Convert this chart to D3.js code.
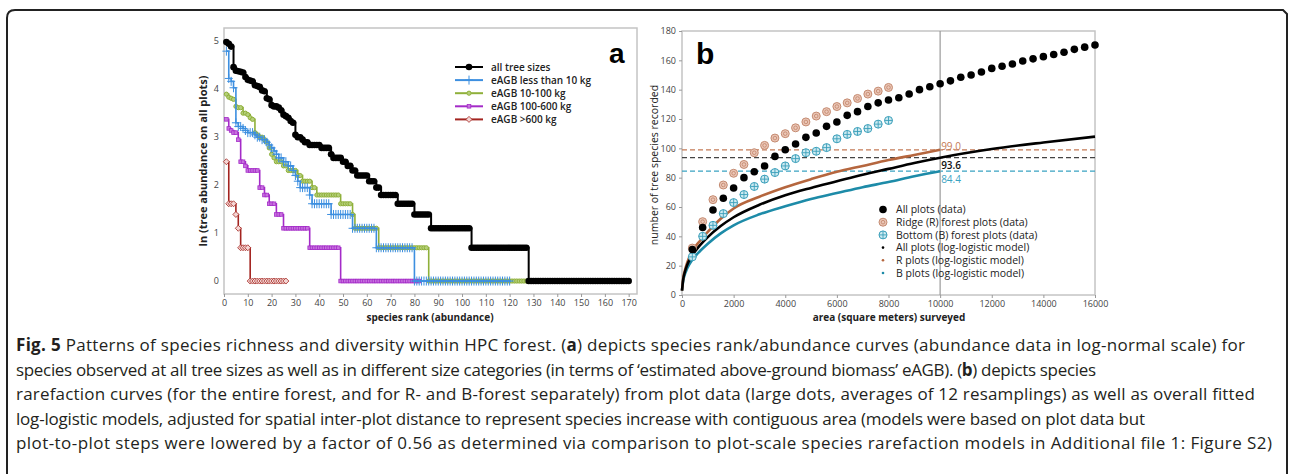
<!DOCTYPE html>
<html><head><meta charset="utf-8">
<script src="https://cdn.jsdelivr.net/npm/d3@7"></script>
<style>
body{margin:0;background:#fff;}
svg{display:block;}
</style></head><body>
<script>
// ---------- Panel a data: abundance by species rank ----------
const abundAll = [145,140,132,86,80,79,78,77,70,66,65,64,59,58,57,53,52,45,44,39,38,38,37,35,32,31,30,28,27,21,20,20,19,18,18,17,17,17,17,17,16,16,16,16,14,13,13,13,13,12,12,11,11,10,10,9,9,9,9,9,8,8,8,7,7,6,6,6,6,6,6,6,5,5,5,5,5,5,5,
4,4,4,4,4,4,4,3,3,3,3,3,3,3,3,3,3,3,3,3,3,3,3,3,2,2,2,2,2,2,2,2,2,2,2,2,2,2,2,2,2,2,2,2,2,2,2,2,
1,1,1,1,1,1,1,1,1,1,1,1,1,1,1,1,1,1,1,1,1,1,1,1,1,1,1,1,1,1,1,1,1,1,1,1,1,1,1,1,1,1,1];
const abundLt10 = [120,68,64,56,27,25,25,24,23,22,22,22,21,20,20,19,19,18,17,16,15,14,13,13,12,12,11,11,10,9,8,7,7,7,7,6,
5,5,5,5,5,5,5,5,4,4,4,4,4,4,4,4,4,3,3,3,3,3,3,3,3,3,3,2,2,2,2,2,2,2,2,2,2,2,2,2,2,2,2,
1,1,1,1,1,1,1,1,1,1,1,1,1,1,1,1,1,1,1,1,1,1,1,1,1,1,1,1,1,1,1,1,1,1,1,1,1,1,1,1,1];
const abund10to100 = [49,46,45,44,38,37,37,33,33,32,30,29,22,21,20,20,19,18,16,14,13,12,12,12,11,11,10,10,10,10,9,9,8,8,8,8,7,7,
6,6,6,6,6,6,6,6,6,6,5,5,5,5,5,4,3,3,3,3,3,3,3,3,3,3,2,2,2,2,2,2,2,2,2,2,2,2,2,2,2,2,2,2,2,2,2,
1,1,1,1,1,1,1,1,1,1,1,1,1,1,1,1,1,1,1,1,1,1,1,1,1,1,1,1,1,1,1,1,1,1,1,1,1,1,1,1,1,1,1];
const abund100to600 = [29,24,23,22,22,19,12,12,11,10,10,10,10,10,7,7,6,6,5,5,5,4,4,4,3,3,3,3,3,3,3,3,3,3,3,
2,2,2,2,2,2,2,2,2,2,2,2,2,1,1,1,1,1,1,1,1,1,1,1,1,1,1,1,1,1,1,1,1,1,1,1,1,1,1,1,1,1,1,1,1,1,1];
const abundGt600 = [12,5,5,5,4,3,2,2,2,2,1,1,1,1,1,1,1,1,1,1,1,1,1,1,1,1];
const seriesANames = ["all tree sizes","eAGB less than 10 kg","eAGB 10-100 kg","eAGB 100-600 kg","eAGB >600 kg"];
const xTicksA = [0,10,20,30,40,50,60,70,80,90,100,110,120,130,140,150,160,170];
const yTicksA = [0,1,2,3,4,5];

// ---------- Panel b data: species rarefaction ----------
const areaAll = [400,800,1200,1600,2000,2400,2800,3200,3600,4000,4400,4800,5200,5600,6000,6400,6800,7200,7600,8000,8400,8800,9200,9600,10000,10400,10800,11200,11600,12000,12400,12800,13200,13600,14000,14400,14800,15200,15600,16000];
const richAll = [31,46,58,66,73,80,84,88,94.5,99,103,107.5,110.5,115,118,122.5,125,128.5,131,133,134.5,137,140,142,144,146,148.5,150,152,154.5,156,157.5,159.5,161,162.5,164,165.5,167.5,169,170.5];
const areaR = [400,800,1200,1600,2000,2400,2800,3200,3600,4000,4400,4800,5200,5600,6000,6400,6800,7200,7600,8000];
const richR = [32,50,65,75,83,89,97,102,107,110,114,118,122,125,128.5,131,134,137,139,141.5];
const areaB = [400,800,1200,1600,2000,2400,2800,3200,3600,4000,4400,4800,5200,5600,6000,6400,6800,7200,7600,8000];
const richB = [26,40,47.5,55.5,63,68.5,74,79,83.5,88,93,97,98,100.5,106.5,109.5,111.5,113.5,116.5,119];
const modelAreaAll = [0,50,100,200,400,700,1000,1500,2000,3000,4000,5000,6000,7000,8000,9000,10000,12000,14000,16000];
const modelAll = [3,11,15,20.5,27,34,39.5,47,53,61.5,68,73,77.5,82,86,90,93.6,99.5,104,108];
const modelAreaRB = [0,50,100,200,400,700,1000,1500,2000,3000,4000,5000,6000,7000,8000,9000,10000];
const modelR = [3,12,16,22,30,37,43,52,59,67,73.5,79,84,88,92,95.5,99.0];
const modelB = [3,10,13.5,18,24,30,35,42,47.5,55,60.5,65.5,69.5,73.5,77,81,84.4];
const refLevels = [99.0, 93.6, 84.4];
const refLabels = ["99.0","93.6","84.4"];
const seriesBNames = ["All plots (data)","Ridge (R) forest plots (data)","Bottom (B) forest plots (data)","All plots (log-logistic model)","R plots (log-logistic model)","B plots (log-logistic model)"];
const xTicksB = [0,2000,4000,6000,8000,10000,12000,14000,16000];
const yTicksB = [0,20,40,60,80,100,120,140,160,180];

// ---------- Caption ----------
const captionLines = [
 [["Fig. 5",true],[" Patterns of species richness and diversity within HPC forest. (",false],["a",true],[") depicts species rank/abundance curves (abundance data in log-normal scale) for",false]],
 [["species observed at all tree sizes as well as in different size categories (in terms of \u2018estimated above-ground biomass\u2019 eAGB). (",false],["b",true],[") depicts species",false]],
 [["rarefaction curves (for the entire forest, and for R- and B-forest separately) from plot data (large dots, averages of 12 resamplings) as well as overall fitted",false]],
 [["log-logistic models, adjusted for spatial inter-plot distance to represent species increase with contiguous area (models were based on plot data but",false]],
 [["plot-to-plot steps were lowered by a factor of 0.56 as determined via comparison to plot-scale species rarefaction models in Additional file 1: Figure S2)",false]]
];

const W = 1292, H = 474;
const FONT = "'Open Sans', 'Noto Sans', sans-serif";
const svg = d3.select("body").append("svg").attr("width", W).attr("height", H)
  .style("font-family", FONT);
svg.append("rect").attr("width", W).attr("height", H).attr("fill", "#fff");

// outer frame
svg.append("path")
  .attr("d", `M7,${H+5} L7,18 Q7,10 15,10 L1283,10 L1287,14 L1287,${H+5}`)
  .attr("fill", "none").attr("stroke", "#222").attr("stroke-width", 2);

// ================= PANEL A =================
const xA = d3.scaleLinear().domain([0, 173.5]).range([224, 637]);
const yA = d3.scaleLinear().domain([-0.27, 5.27]).range([294, 28]);
const gA = svg.append("g");

gA.append("rect").attr("x", xA.range()[0]).attr("y", yA.range()[1])
  .attr("width", xA.range()[1] - xA.range()[0]).attr("height", yA.range()[0] - yA.range()[1])
  .attr("fill", "none").attr("stroke", "#c4c4c4").attr("stroke-width", 1.5);

const axA = gA.append("g").attr("transform", `translate(0,${yA.range()[0]})`)
  .call(d3.axisBottom(xA).tickValues(xTicksA).tickFormat(d3.format("d")).tickSize(3).tickPadding(3));
const ayA = gA.append("g").attr("transform", `translate(${xA.range()[0]},0)`)
  .call(d3.axisLeft(yA).tickValues(yTicksA).tickFormat(d3.format("d")).tickSize(0).tickPadding(5));
[axA, ayA].forEach(a => {
  a.select(".domain").remove();
  a.selectAll("line").attr("stroke", "#999");
  a.selectAll("text").attr("fill", "#444").style("font-size", "9px").style("font-family", FONT);
});

const colorsA = ["#000000", "#3d8fe0", "#8fb03a", "#a42bc8", "#a32420"];
const dataA = [abundAll, abundLt10, abund10to100, abund100to600, abundGt600];

function drawMarkerA(sel, i, c) {
  if (i === 0) sel.append("circle").attr("r", 3.3).attr("fill", c);
  else if (i === 1) sel.append("path").attr("d", "M-4,0H4M0,-4.5V4.5").attr("stroke", c).attr("stroke-width", 1);
  else if (i === 2) sel.append("circle").attr("r", 2.1).attr("fill", "#b5cf7a").attr("stroke", c).attr("stroke-width", 1);
  else if (i === 3) sel.append("rect").attr("x", -1.8).attr("y", -1.8).attr("width", 3.6).attr("height", 3.6).attr("fill", "#c772de").attr("stroke", c).attr("stroke-width", 0.8);
  else sel.append("path").attr("d", "M0,-3L3,0L0,3L-3,0Z").attr("fill", "#f4d6d4").attr("stroke", c).attr("stroke-width", 0.8);
}

const lineA = d3.line().x(d => xA(d[0])).y(d => yA(d[1])).curve(d3.curveStepAfter);
[4, 3, 2, 1, 0].forEach(i => {
  const pts = dataA[i].map((v, k) => [k + 1, Math.log(v)]);
  const g = gA.append("g");
  g.append("path").attr("d", lineA(pts)).attr("fill", "none")
    .attr("stroke", colorsA[i]).attr("stroke-width", i === 0 ? 2 : 1.6);
  g.selectAll("g.m").data(pts).join("g").attr("class", "m")
    .attr("transform", d => `translate(${xA(d[0])},${yA(d[1])})`)
    .each(function () { drawMarkerA(d3.select(this), i, colorsA[i]); });
});

// legend a
seriesANames.forEach((n, i) => {
  const y = 67 + i * 13.1;
  const g = gA.append("g");
  g.append("line").attr("x1", 455).attr("x2", 483).attr("y1", y).attr("y2", y)
    .attr("stroke", colorsA[i]).attr("stroke-width", 2);
  const m = g.append("g").attr("transform", `translate(469,${y})`);
  drawMarkerA(m, i, colorsA[i]);
  g.append("text").attr("x", 491).attr("y", y).attr("dy", "0.35em")
    .style("font-size", "10px").style("font-weight", 600).attr("fill", "#222").text(n);
});

gA.append("text").attr("x", 609).attr("y", 63).text("a")
  .style("font-family", "'Liberation Sans', Arial, sans-serif").style("font-size", "28px").style("font-weight", 700);

gA.append("text").attr("transform", "translate(207,161) rotate(-90)").attr("text-anchor", "middle")
  .style("font-size", "11px").style("font-weight", 700).attr("fill", "#222")
  .text("ln (tree abundance on all plots)");
gA.append("text").attr("x", 430).attr("y", 321).attr("text-anchor", "middle")
  .style("font-size", "10px").style("font-weight", 700).attr("fill", "#222")
  .text("species rank (abundance)");

// ================= PANEL B =================
const xB = d3.scaleLinear().domain([0, 16000]).range([682, 1095]);
const yB = d3.scaleLinear().domain([0, 180]).range([295, 31]);
const gB = svg.append("g");

gB.append("rect").attr("x", xB.range()[0]).attr("y", yB.range()[1])
  .attr("width", xB.range()[1] - xB.range()[0]).attr("height", yB.range()[0] - yB.range()[1])
  .attr("fill", "none").attr("stroke", "#c4c4c4").attr("stroke-width", 1.5);

const axB = gB.append("g").attr("transform", `translate(0,${yB.range()[0]})`)
  .call(d3.axisBottom(xB).tickValues(xTicksB).tickFormat(d3.format("d")).tickSize(3).tickPadding(3));
const ayB = gB.append("g").attr("transform", `translate(${xB.range()[0]},0)`)
  .call(d3.axisLeft(yB).tickValues(yTicksB).tickSize(3).tickPadding(3));
[axB, ayB].forEach(a => {
  a.select(".domain").remove();
  a.selectAll("line").attr("stroke", "#999");
  a.selectAll("text").attr("fill", "#444").style("font-size", "9px").style("font-family", FONT);
});

const refColors = ["#c47a55", "#444444", "#3aa3c2"];
refLevels.forEach((v, i) => {
  gB.append("line").attr("x1", xB(0)).attr("x2", xB(16000)).attr("y1", yB(v)).attr("y2", yB(v))
    .attr("stroke", refColors[i]).attr("stroke-width", 1.2).attr("stroke-dasharray", "5,3");
});
gB.append("line").attr("x1", xB(10000)).attr("x2", xB(10000)).attr("y1", yB(0)).attr("y2", yB(180))
  .attr("stroke", "#9a9a9a").attr("stroke-width", 1.2);

const modelColors = ["#000000", "#b5663e", "#1d8ba8"];
const lineB = d3.line().x(d => xB(d[0])).y(d => yB(d[1])).curve(d3.curveMonotoneX);
[[modelAreaRB, modelB, 2], [modelAreaRB, modelR, 1], [modelAreaAll, modelAll, 0]].forEach(([xs, ys, ci]) => {
  gB.append("path").attr("d", lineB(xs.map((x, k) => [x, ys[k]]))).attr("fill", "none")
    .attr("stroke", modelColors[ci]).attr("stroke-width", 2.6);
});

function drawMarkerB(sel, i) {
  if (i === 0) sel.append("circle").attr("r", 3.8).attr("fill", "#000");
  else if (i === 1) {
    sel.append("circle").attr("r", 4).attr("fill", "#ebc6b6").attr("stroke", "#c48a70").attr("stroke-width", 1);
    sel.append("circle").attr("r", 1.8).attr("fill", "none").attr("stroke", "#c48a70").attr("stroke-width", 0.9);
  } else if (i === 2) {
    sel.append("circle").attr("r", 4).attr("fill", "#cdeaf1").attr("stroke", "#3a9fba").attr("stroke-width", 1);
    sel.append("path").attr("d", "M-4,0H4M0,-4V4").attr("stroke", "#3a9fba").attr("stroke-width", 0.9);
  } else {
    sel.append("circle").attr("r", 1.3).attr("fill", modelColors[i - 3]);
  }
}
[[areaB, richB, 2], [areaR, richR, 1], [areaAll, richAll, 0]].forEach(([xs, ys, i]) => {
  gB.selectAll(null).data(xs.map((x, k) => [x, ys[k]])).join("g")
    .attr("transform", d => `translate(${xB(d[0])},${yB(d[1])})`)
    .each(function () { drawMarkerB(d3.select(this), i); });
});

const refLabelY = [149.5, 168.5, 182.5];
const refLabelColors = ["#c47a55", "#111", "#3aa3c2"];
refLabels.forEach((t, i) => {
  gB.append("text").attr("x", xB(10000) + 1).attr("y", refLabelY[i]).text(t)
    .style("font-size", "10px").style("font-weight", i === 1 ? 600 : 400).attr("fill", refLabelColors[i]);
});

seriesBNames.forEach((n, i) => {
  const y = 209.5 + i * 12.7;
  const m = gB.append("g").attr("transform", `translate(883,${y})`);
  drawMarkerB(m, i);
  gB.append("text").attr("x", 896).attr("y", y).attr("dy", "0.35em")
    .style("font-size", "10.5px").attr("fill", "#222").text(n);
});

gB.append("text").attr("x", 696).attr("y", 64).text("b")
  .style("font-family", "'Liberation Sans', Arial, sans-serif").style("font-size", "30px").style("font-weight", 700);

gB.append("text").attr("transform", "translate(658,165) rotate(-90)").attr("text-anchor", "middle")
  .style("font-size", "10.5px").attr("fill", "#222").text("number of tree species recorded");
gB.append("text").attr("x", 889).attr("y", 321).attr("text-anchor", "middle")
  .style("font-size", "10px").style("font-weight", 700).attr("fill", "#222")
  .text("area (square meters) surveyed");

// ================= CAPTION =================
const capX = 16;
const capY = [351, 375.5, 400, 424.5, 449];
const capEnds = [1245, 1096, 1255, 1145, 1272];
const capTexts = captionLines.map((parts, li) => {
  const t = svg.append("text").attr("x", capX).attr("y", capY[li])
    .style("font-size", "16px").attr("fill", "#231f20");
  parts.forEach(([s, b]) => t.append("tspan").style("font-weight", b ? 700 : 400).text(s));
  return t;
});
// fit a uniform font size to the measured line widths
const ratios = capTexts.map((t, li) => (capEnds[li] - capX) / t.node().getComputedTextLength());
const mid = ratios.slice(1).sort((a, b) => a - b);
const fs = 16 * (mid[1] + mid[2]) / 2;
capTexts.forEach((t, li) => {
  t.style("font-size", fs + "px");
  t.attr("textLength", capEnds[li] - capX).attr("lengthAdjust", "spacing");
});
</script>
</body></html>
